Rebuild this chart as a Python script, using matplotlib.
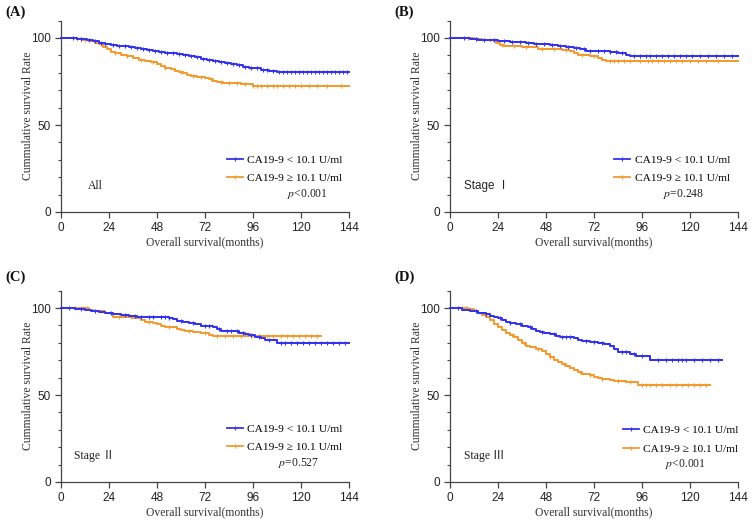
import numpy as np
import matplotlib
matplotlib.use("Agg")
import matplotlib.pyplot as plt
from matplotlib.lines import Line2D

plt.rcParams['font.family'] = ['Liberation Serif', 'Noto Sans CJK SC']
plt.rcParams['mathtext.fontset'] = 'stix'

BLUE = '#3434f0'
ORANGE = '#f59a2e'

panel_labels = ['(A)', '(B)', '(C)', '(D)']
group_labels = ['All', 'Stage \u2160', 'Stage \u2161', 'Stage \u2162']
p_values = ['$p$<0.001', '$p$=0.248', '$p$=0.527', '$p$<0.001']
legend_labels = ['CA19-9 < 10.1 U/ml', 'CA19-9 \u2265 10.1 U/ml']
x_ticks = [0, 24, 48, 72, 96, 120, 144]
y_ticks = [0, 50, 100]

# ---- Panel A (All) ----
a_low_t = [0, 8, 10, 13, 16, 19, 22, 25, 28, 31, 34, 37, 40, 43, 46, 49, 52, 55, 58, 61, 64, 67, 70, 73, 76, 79, 82, 85, 88, 91, 94, 97, 100, 104, 108, 110]
a_low_s = [100, 99.6, 99.2, 98.6, 98.0, 97.4, 96.8, 96.2, 95.6, 95.2, 94.6, 94.0, 93.4, 92.9, 92.5, 92.0, 91.6, 91.3, 90.8, 90.2, 89.5, 88.8, 88.2, 87.6, 87.0, 86.2, 85.6, 85.0, 84.2, 83.5, 83.0, 82.5, 81.6, 81.2, 80.6, 80.3]
a_low_end = 144
a_low_cens = [6, 10, 14, 17, 20, 22, 26, 29, 32, 35, 38, 41, 44, 47, 50, 53, 56, 59, 62, 65, 68, 71, 74, 77, 80, 83, 86, 89, 92, 95, 98, 101, 103, 106, 109, 111, 113, 115, 117, 119, 121, 123, 125, 127, 129, 131, 133, 135, 137, 139, 141, 143]
a_high_t = [0, 8, 11, 14, 17, 19, 21, 23, 25, 27, 30, 33, 36, 39, 42, 45, 48, 50, 52, 55, 57, 59, 61, 63, 65, 68, 72, 74, 76, 78, 81, 85, 90, 94, 96, 104]
a_high_s = [100, 99.6, 99.0, 98.2, 97.2, 96.4, 95.0, 93.4, 92.2, 91.2, 90.2, 89.4, 88.4, 87.6, 86.8, 86.0, 84.9, 83.8, 82.9, 82.0, 81.2, 80.4, 79.6, 78.7, 78.0, 77.5, 77.0, 76.2, 75.4, 74.8, 74.2, 73.9, 73.6, 73.3, 72.7, 72.6]
a_high_end = 144
a_high_cens = [8, 10, 12, 20, 27, 33, 40, 46, 52, 60, 66, 70, 75, 80, 84, 88, 92, 96, 98, 100, 103, 106, 108, 111, 114, 117, 120, 124, 128, 133, 140]

# ---- Panel B (Stage I) ----
b_low_t = [0, 10, 14, 24, 30, 38, 42, 46, 50, 54, 58, 62, 65, 68, 72, 80, 84, 88, 90]
b_low_s = [100, 99.5, 99.0, 98.2, 97.8, 97.4, 96.8, 96.4, 95.8, 95.2, 94.8, 94.2, 93.4, 92.8, 92.4, 92.0, 91.4, 90.2, 89.6]
b_low_end = 144
b_low_cens = [7, 13, 17, 22, 27, 31, 35, 39, 43, 47, 51, 55, 59, 63, 67, 70, 74, 77, 80, 83, 86, 92, 95, 98, 100, 103, 106, 109, 112, 115, 118, 121, 125, 129, 133, 137, 141]
b_high_t = [0, 12, 16, 22, 23, 25, 27, 36, 40, 44, 48, 56, 60, 62, 64, 70, 74, 76, 78]
b_high_s = [100, 99.4, 99.0, 98.0, 97.0, 96.2, 95.4, 95.0, 94.6, 93.8, 93.4, 93.0, 92.4, 91.2, 90.4, 89.4, 88.4, 87.4, 86.6]
b_high_end = 144
b_high_cens = [9, 13, 20, 26, 32, 38, 46, 52, 58, 66, 72, 80, 82, 84, 87, 90, 95, 99, 101, 104, 107, 110, 113, 116, 120, 124, 128, 134]

# ---- Panel C (Stage II) ----
c_low_t = [0, 7, 12, 15, 19, 22, 26, 30, 34, 38, 42, 54, 56, 58, 61, 64, 67, 70, 76, 78, 80, 86, 89, 92, 94, 97, 100, 102, 108]
c_low_s = [100, 99.5, 98.8, 98.2, 97.6, 97.0, 96.4, 95.8, 95.2, 94.8, 94.6, 94.2, 93.6, 92.8, 92.2, 91.4, 90.6, 89.6, 89.0, 87.8, 87.0, 86.6, 85.6, 84.8, 84.2, 83.4, 82.6, 81.8, 80.0]
c_low_end = 144
c_low_cens = [4, 10, 17, 25, 32, 37, 40, 44, 46, 50, 52, 54, 60, 66, 72, 74, 79, 83, 85, 88, 91, 95, 99, 104, 110, 112, 115, 118, 121, 124, 127, 130, 133, 136, 139, 142]
c_high_t = [0, 14, 16, 22, 25, 26, 30, 36, 40, 42, 46, 48, 50, 52, 56, 58, 60, 62, 66, 70, 74, 76]
c_high_s = [100, 99.0, 98.2, 97.4, 96.4, 95.0, 94.6, 94.0, 93.2, 92.2, 91.4, 90.6, 89.8, 89.0, 88.8, 88.0, 87.4, 86.6, 86.0, 85.4, 84.6, 83.8]
c_high_end = 130
c_high_cens = [7, 11, 13, 20, 29, 35, 44, 54, 64, 72, 78, 82, 86, 90, 95, 99, 103, 106, 110, 113, 116, 119, 122, 125, 128]

# ---- Panel D (Stage III) ----
d_low_t = [0, 6, 10, 14, 18, 20, 22, 24, 26, 28, 30, 33, 36, 39, 41, 43, 45, 47, 50, 53, 55, 62, 64, 66, 70, 74, 77, 80, 82, 84, 90, 93, 100]
d_low_s = [100, 98.8, 98.0, 97.2, 96.4, 95.6, 94.8, 94.0, 93.0, 92.0, 91.4, 90.6, 89.8, 89.0, 88.0, 87.0, 86.2, 85.6, 85.0, 84.0, 83.2, 82.6, 81.8, 81.0, 80.6, 80.0, 79.2, 78.4, 76.6, 74.6, 73.6, 72.6, 70.2]
d_low_end = 136
d_low_cens = [4, 13, 18, 25, 30, 35, 40, 46, 52, 56, 58, 60, 68, 72, 76, 86, 88, 92, 96, 104, 108, 111, 114, 116, 118, 122, 126, 130, 134]
d_high_t = [0, 9, 12, 14, 16, 18, 20, 22, 24, 26, 28, 30, 32, 34, 36, 38, 40, 43, 46, 48, 50, 52, 54, 56, 58, 60, 62, 64, 66, 70, 72, 74, 76, 80, 82, 88, 94]
d_high_s = [100, 99.4, 98.4, 97.4, 96.2, 95.0, 93.0, 91.0, 89.0, 87.2, 85.6, 84.6, 83.4, 81.6, 79.6, 78.2, 77.4, 76.6, 75.2, 73.6, 72.0, 70.4, 69.0, 67.8, 66.6, 65.4, 64.2, 63.0, 62.0, 61.4, 60.6, 59.8, 59.0, 58.6, 57.8, 57.2, 56.0]
d_high_end = 130
d_high_cens = [6, 8, 10, 31, 37, 44, 50, 57, 65, 70, 76, 84, 90, 96, 98, 100, 103, 106, 110, 113, 116, 119, 122, 125, 128]

panels = [
    (a_low_t, a_low_s, a_low_end, a_low_cens, a_high_t, a_high_s, a_high_end, a_high_cens),
    (b_low_t, b_low_s, b_low_end, b_low_cens, b_high_t, b_high_s, b_high_end, b_high_cens),
    (c_low_t, c_low_s, c_low_end, c_low_cens, c_high_t, c_high_s, c_high_end, c_high_cens),
    (d_low_t, d_low_s, d_low_end, d_low_cens, d_high_t, d_high_s, d_high_end, d_high_cens),
]

# layout (figure fractions)
W, H = 753, 523
ax_rects = [
    (61 / W, 1 - 212 / H, 288 / W, 191.4 / H),
    (450 / W, 1 - 212 / H, 288 / W, 191.4 / H),
    (61 / W, 1 - 482 / H, 288 / W, 191.4 / H),
    (450 / W, 1 - 482 / H, 288 / W, 191.4 / H),
]
label_pos = [(5 / W, 1 - 12 / H), (394 / W, 1 - 12 / H), (5 / W, 1 - 277 / H), (394 / W, 1 - 277 / H)]
legend_anchor = [(0.575, 0.30), (0.57, 0.30), (0.575, 0.305), (0.60, 0.297)]
p_pos = [(0.785, 0.092), (0.74, 0.095), (0.752, 0.10), (0.747, 0.095)]
grp_pos = [(0.094, 0.136), (0.049, 0.136), (0.045, 0.136), (0.049, 0.136)]
grp_family = [['Liberation Serif', 'Noto Sans CJK SC'], ['Liberation Sans', 'Noto Sans CJK SC'],
              ['Liberation Serif', 'Noto Sans CJK SC'], ['Liberation Serif', 'Noto Sans CJK SC']]

fig = plt.figure(figsize=(W / 100, H / 100), dpi=100)

def step_curve(t, s, end):
    tt = list(t) + [end]
    ss = list(s) + [s[-1]]
    return tt, ss

def value_at(t, s, x):
    idx = np.searchsorted(np.asarray(t), np.asarray(x), side='right') - 1
    return np.asarray(s)[np.clip(idx, 0, len(s) - 1)]

for i, (lt, ls, le, lc, ht, hs, he, hc) in enumerate(panels):
    ax = fig.add_axes(ax_rects[i])
    # orange first, blue on top
    for t, s, e, c, col in [(ht, hs, he, hc, ORANGE), (lt, ls, le, lc, BLUE)]:
        tt, ss = step_curve(t, s, e)
        ax.step(tt, ss, where='post', color=col, lw=1.45, clip_on=False, zorder=3)
        c = [x for x in c if x <= e]
        ax.plot(c, value_at(t, s, c), linestyle='none', marker='|', ms=3.5,
                mew=0.8, color=col, clip_on=False, zorder=3)
    ax.set_xlim(0, 144)
    ax.set_ylim(0, 110)
    ax.set_xticks(x_ticks)
    ax.set_yticks(y_ticks)
    ax.set_yticks(np.arange(0, 111, 10), minor=True)
    for sp in ['top', 'right']:
        ax.spines[sp].set_visible(False)
    for sp in ['left', 'bottom']:
        ax.spines[sp].set_color('#444444')
        ax.spines[sp].set_linewidth(0.9)
    ax.tick_params(axis='both', which='major', length=4, width=0.9, color='#444444',
                   labelsize=8.5, pad=3.2, labelcolor='#222222')
    ax.tick_params(axis='y', which='minor', length=2.5, width=0.8, color='#444444')
    for lab in ax.get_xticklabels() + ax.get_yticklabels():
        lab.set_family('Liberation Sans')
    ax.set_xlabel('Overall survival(months)', fontsize=8.4, color='#333333', labelpad=2)
    ax.set_ylabel('Cummulative survival Rate', fontsize=8.4, color='#333333')
    ax.yaxis.set_label_coords(-0.095, 0.5)

    handles = [Line2D([], [], color=BLUE, lw=1.3, marker='|', ms=3.5, mew=0.8),
               Line2D([], [], color=ORANGE, lw=1.3, marker='|', ms=3.5, mew=0.8)]
    ax.legend(handles, legend_labels, loc='upper left', bbox_to_anchor=legend_anchor[i],
              frameon=False, fontsize=8.2, handlelength=1.4, handletextpad=0.4,
              labelspacing=0.75, borderpad=0, borderaxespad=0, numpoints=1)
    ax.text(p_pos[i][0], p_pos[i][1], p_values[i], transform=ax.transAxes,
            fontsize=8.4, ha='left', va='center', color='#222222')
    ax.text(grp_pos[i][0], grp_pos[i][1], group_labels[i], transform=ax.transAxes,
            fontsize=8.4, ha='left', va='center', color='#222222', family=grp_family[i])
    fig.text(label_pos[i][0], label_pos[i][1], panel_labels[i], fontsize=10.5,
             fontweight='bold', ha='left', va='center', color='#111111')

fig.savefig('out.png', dpi=100)
